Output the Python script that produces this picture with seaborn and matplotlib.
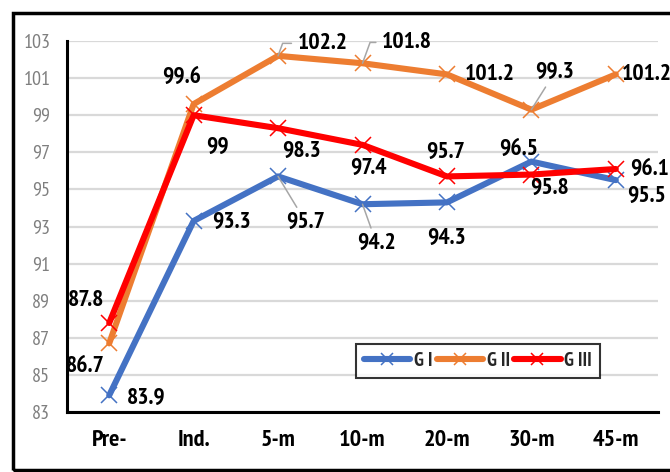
import matplotlib
matplotlib.use("Agg")
import matplotlib.pyplot as plt
import seaborn as sns
import pandas as pd
from matplotlib.patches import Rectangle
from matplotlib.lines import Line2D

# Measurements per time point for each group
time_points = ["Pre-", "Ind.", "5-m", "10-m", "20-m", "30-m", "45-m"]
g1_values = [83.9, 93.3, 95.7, 94.2, 94.3, 96.5, 95.5]
g2_values = [86.7, 99.6, 102.2, 101.8, 101.2, 99.3, 101.2]
g3_values = [87.8, 99.0, 98.3, 97.4, 95.7, 95.8, 96.1]
group_names = ["G I", "G II", "G III"]
y_ticks = [83, 85, 87, 89, 91, 93, 95, 97, 99, 101, 103]

sns.set_theme(style="white")
plt.rcParams["font.family"] = ["PT Sans Narrow", "DejaVu Sans"]

colors = {"G I": "#4472C4", "G II": "#ED7D31", "G III": "#FF0000"}

df = pd.DataFrame({
    "time": time_points * 3,
    "pos": list(range(len(time_points))) * 3,
    "value": g1_values + g2_values + g3_values,
    "group": [g for g in group_names for _ in time_points],
})

fig = plt.figure(figsize=(6.7, 4.72), dpi=100)
ax = fig.add_axes([67 / 670, 1 - 412 / 472, (658 - 67) / 670, (412 - 41) / 472])

sns.lineplot(data=df, x="pos", y="value", hue="group", palette=colors,
             marker="x", markersize=11, markeredgewidth=1.1, linewidth=4.4,
             ax=ax, legend=False)
for line in ax.lines:
    line.set_markeredgecolor(line.get_color())

ax.set_xlim(-0.5, len(time_points) - 0.5)
ax.set_ylim(83, 103)
ax.set_yticks(y_ticks)
ax.set_xticks(range(len(time_points)))
ax.set_xticklabels(time_points, fontsize=17.5, fontweight="bold", color="black")
ax.set_yticklabels([str(t) for t in y_ticks], fontsize=14.5, color="#7F7F7F")
ax.tick_params(axis="y", length=0, pad=12)
ax.tick_params(axis="x", length=0, pad=13)
ax.set_xlabel("")
ax.set_ylabel("")
ax.grid(axis="y", color="#D9D9D9", linewidth=1.6)
ax.set_axisbelow(True)
for side in ("top", "right"):
    ax.spines[side].set_visible(False)
for side in ("left", "bottom"):
    ax.spines[side].set_color("black")
    ax.spines[side].set_linewidth(2.2)

# Data labels: offsets in points, plus optional leader lines
label_offsets = {
    "G I": [(27, -2), (27, -1), (20, -33, True), (10, -28, True), (0, -26), (-9, 9), (22, -12)],
    "G II": [(-17, -17), (-9, 19), (32, 9, "angle"), (32, 15, "angle"), (31, 0), (17, 27, True), (22, 0)],
    "G III": [(-17, 16), (17, -23), (17, -17), (4, -17), (-1, 17), (13, -10), (24, 0)],
}
series = {"G I": g1_values, "G II": g2_values, "G III": g3_values}
for name in group_names:
    for i, v in enumerate(series[name]):
        off = label_offsets[name][i]
        dx, dy = off[0], off[1]
        kw = {}
        if len(off) > 2:
            if off[2] == "angle":
                kw["arrowprops"] = dict(arrowstyle="-", color="#A6A6A6", lw=1.1,
                                        shrinkA=2, shrinkB=0, relpos=(0, 0.5),
                                        connectionstyle="angle,angleA=0,angleB=70,rad=0")
            else:
                kw["arrowprops"] = dict(arrowstyle="-", color="#A6A6A6", lw=1.1,
                                        shrinkA=1, shrinkB=0)
        ax.annotate(f"{v:g}", xy=(i, v), xytext=(dx, dy), textcoords="offset points",
                    ha="center", va="center", fontsize=17, fontweight="bold",
                    color="black", annotation_clip=False, zorder=5, **kw)

# Legend
handles = [Line2D([0], [0], color=colors[g], lw=4.4, marker="x", markersize=8,
                  markeredgewidth=1.1, markeredgecolor=colors[g],
                  solid_capstyle="round") for g in group_names]
leg = ax.legend(handles, group_names, loc="lower left",
                bbox_to_anchor=((356 - 67) / 591, (412 - 378) / 371,
                                (600 - 356) / 591, (378 - 336) / 371),
                mode="expand", ncol=3, frameon=True, fancybox=False, handlelength=2.4,
                handletextpad=0.2, columnspacing=1.0, borderaxespad=0,
                prop={"weight": "bold", "size": 14, "family": ["PT Sans Narrow"]})
leg.get_frame().set_edgecolor("black")
leg.get_frame().set_linewidth(1.5)

# Outer frame around the chart area
fig.patches.append(Rectangle((13 / 670, 1 - 470 / 472), 700 / 670, (470 - 13) / 472,
                             transform=fig.transFigure, fill=False,
                             edgecolor="black", linewidth=2.5, zorder=10))

fig.savefig("out.png", dpi=100)
